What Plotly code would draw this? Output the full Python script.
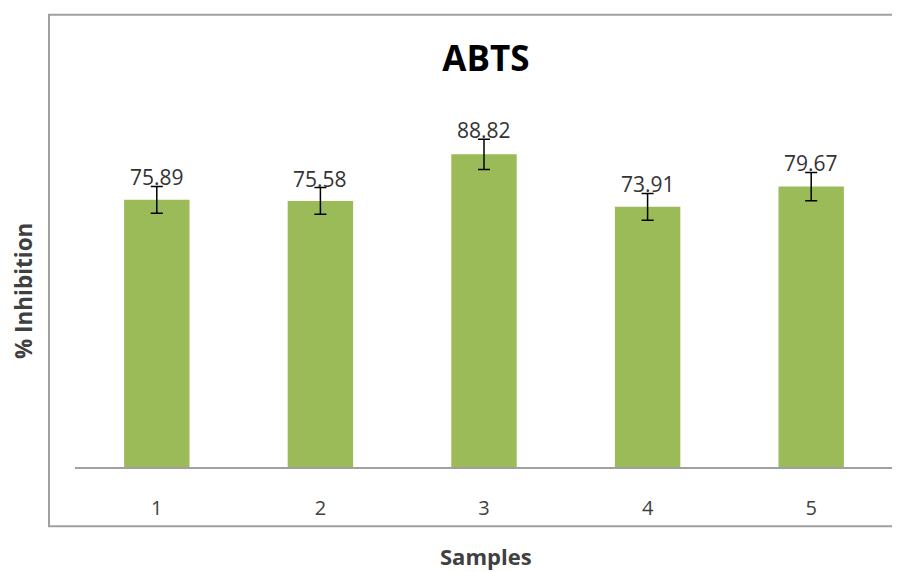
import plotly.graph_objects as go

samples = ["1", "2", "3", "4", "5"]
inhibition = [75.89, 75.58, 88.82, 73.91, 79.67]
errors = [3.8, 3.8, 4.3, 3.8, 4.0]
labels = ["75.89", "75.58", "88.82", "73.91", "79.67"]

FONT = "Open Sans"
BAR_COLOR = "#9BBB59"
GREY = "#A0A0A0"

fig = go.Figure()
fig.add_trace(go.Bar(
    x=samples, y=inhibition,
    marker=dict(color=BAR_COLOR, line=dict(width=0)),
    width=0.4,
    error_y=dict(type="data", array=errors, visible=True,
                 color="black", thickness=1.5, width=6),
    hoverinfo="skip",
))

# value labels (x given as category index)
for i, (v, e, t) in enumerate(zip(inhibition, errors, labels)):
    fig.add_annotation(x=i, y=v + e, text=t, showarrow=False,
                       xref="x", yref="y", yanchor="bottom", yshift=-7,
                       font=dict(family=FONT, size=21, color="#333333"))

# axis titles
fig.add_annotation(text="<b>% Inhibition</b>", xref="paper", yref="paper",
                   x=-0.0635, y=0.5, textangle=-90, showarrow=False,
                   xanchor="center", yanchor="middle",
                   font=dict(family=FONT, size=22.5, color="#404040"))
fig.add_annotation(text="<b>Samples</b>", xref="paper", yref="paper",
                   x=0.5024, y=-0.2535, showarrow=False,
                   xanchor="center", yanchor="middle",
                   font=dict(family=FONT, size=22, color="#404040"))

# chart border
fig.add_shape(type="rect", xref="paper", yref="paper",
              x0=-0.0318, x1=1.03, y0=-0.1686, y1=1.2847,
              line=dict(color=GREY, width=2), layer="below")

fig.update_layout(
    width=900, height=572,
    margin=dict(l=67, r=15, t=106.5, b=112.5),
    paper_bgcolor="white", plot_bgcolor="white",
    showlegend=False,
    title=dict(text="<b>ABTS</b>", x=0.5024, xref="paper", xanchor="center",
               y=1 - 51 / 572, yref="container", yanchor="middle",
               font=dict(family=FONT, size=35, color="#000000")),
    xaxis=dict(type="category", range=[-0.5, 4.5],
               showline=True, linecolor=GREY, linewidth=2,
               ticks="outside", ticklen=22, tickcolor="rgba(0,0,0,0)",
               tickfont=dict(family=FONT, size=20, color="#404040"),
               showgrid=False, zeroline=False),
    yaxis=dict(range=[0, 100], visible=False, showgrid=False, zeroline=False),
)

fig.write_html("out.html")
